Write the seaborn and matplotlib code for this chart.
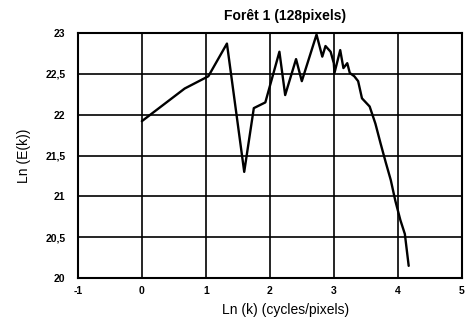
import matplotlib
matplotlib.use("Agg")
import matplotlib.pyplot as plt
import seaborn as sns
import pandas as pd

# Log-log energy spectrum of the forest texture
ln_k = [0.0, 0.67, 1.04, 1.33, 1.60, 1.75, 1.93, 2.15, 2.24, 2.41, 2.50, 2.73,
        2.82, 2.87, 2.95, 3.00, 3.01, 3.10, 3.15, 3.21, 3.25, 3.32, 3.38, 3.44,
        3.56, 3.65, 3.73, 3.81, 3.89, 3.96, 4.04, 4.11, 4.17]
ln_E = [21.92, 22.32, 22.47, 22.87, 21.30, 22.08, 22.15, 22.77, 22.24, 22.68,
        22.41, 22.98, 22.71, 22.84, 22.77, 22.63, 22.51, 22.79, 22.57, 22.63,
        22.51, 22.47, 22.41, 22.20, 22.10, 21.89, 21.65, 21.42, 21.20, 20.95,
        20.71, 20.54, 20.15]

x_ticks = [-1, 0, 1, 2, 3, 4, 5]
y_ticks = [20, 20.5, 21, 21.5, 22, 22.5, 23]
y_tick_labels = ["20", "20,5", "21", "21,5", "22", "22,5", "23"]

sns.set_theme(style="white")
plt.rcParams["font.family"] = ["Liberation Sans", "DejaVu Sans"]

fig = plt.figure(figsize=(4.66, 3.23), dpi=100)
ax = fig.add_axes([0.167, 0.139, 0.824, 0.759])

df = pd.DataFrame({"ln_k": ln_k, "ln_E": ln_E})
sns.lineplot(data=df, x="ln_k", y="ln_E", sort=False, color="black",
             linewidth=1.7, ax=ax, zorder=3)

ax.set_xlim(-1, 5)
ax.set_ylim(20, 23)
ax.set_xticks(x_ticks)
ax.set_xticklabels([str(t) for t in x_ticks])
ax.set_yticks(y_ticks)
ax.set_yticklabels(y_tick_labels)
ax.tick_params(axis="x", length=0, labelsize=7.5, pad=6, colors="black")
ax.tick_params(axis="y", length=0, labelsize=7.5, pad=9, colors="black")
for lbl in ax.get_xticklabels() + ax.get_yticklabels():
    lbl.set_fontweight("bold")

ax.grid(True, color="black", linewidth=1.2)
for s in ax.spines.values():
    s.set_color("black")
    s.set_linewidth(1.5)

ax.set_xlabel("Ln (k) (cycles/pixels)", fontsize=10, color="black",
              labelpad=5, x=0.54)
ax.set_ylabel("Ln (E(k))", fontsize=10, color="black", labelpad=10)
ax.set_title("Forêt 1 (128pixels)", fontsize=10, fontweight="bold",
             color="black", pad=9, x=0.54)

fig.savefig("out.png", dpi=100, facecolor="white")
